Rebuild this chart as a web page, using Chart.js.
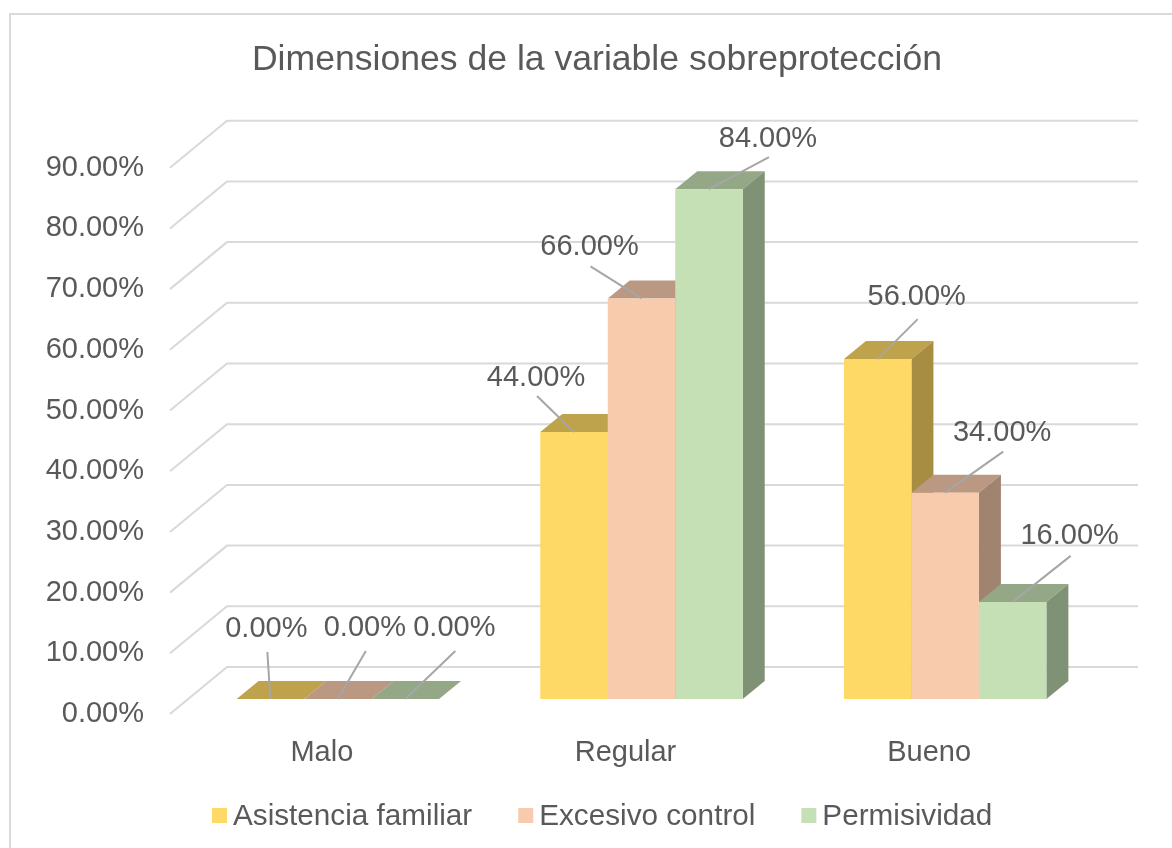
<!DOCTYPE html>
<html><head><meta charset="utf-8">
<style>html,body{margin:0;padding:0;background:#fff}canvas{display:block}</style>
<script src="https://cdn.jsdelivr.net/npm/chart.js@4"></script>
</head><body>
<canvas id="c" width="1172" height="848"></canvas>
<script>
const categories = ["Malo", "Regular", "Bueno"];
const asistencia = [0, 44, 56];
const excesivo = [0, 66, 34];
const permisividad = [0, 84, 16];
const seriesNames = ["Asistencia familiar", "Excesivo control", "Permisividad"];
const frontColors = ["#FFD966", "#F8CBAD", "#C5E0B4"];
const topColors = ["#BFA34C", "#BA9882", "#94A887"];
const sideColors = ["#A68D42", "#A18470", "#809275"];
const yTicks = [0,10,20,30,40,50,60,70,80,90];

const FONT = '"Liberation Sans", Arial, sans-serif';
const TEXT = "#595959";
const wall = {dx:57, dy:-47};       // floor depth
const barShift = {dx:16, dy:-15};   // bars sit mid-floor
const barDepth = {dx:22, dy:-18};
// leader line start relative to the top-front centre of the bar [series][category]
const leaders = [
  [[-3,-47],[-37,-36],[40,-40]],
  [[28,-48],[-51,-32],[58,-41]],
  [[50,-48],[60,-32],[58,-46]]
];
// gap between the leader start and its label [series][category]
const labelGaps = [
  [23,18,22],
  [23,19,19],
  [23,18,20]
];

function poly(ctx, pts, fill){
  ctx.beginPath();
  pts.forEach((p,i)=> i ? ctx.lineTo(p[0],p[1]) : ctx.moveTo(p[0],p[1]));
  ctx.closePath(); ctx.fillStyle = fill; ctx.fill();
}

const decor = {
  id:"decor",
  beforeDraw(chart){
    const ctx = chart.ctx;
    ctx.save();
    ctx.fillStyle="#fff"; ctx.fillRect(0,0,1172,848);
    ctx.strokeStyle="#D9D9D9"; ctx.lineWidth=2;
    ctx.beginPath(); ctx.moveTo(10,848); ctx.lineTo(10,14); ctx.lineTo(1172,14); ctx.stroke();
    ctx.restore();
  },
  beforeDatasetsDraw(chart){
    const {ctx, scales:{x,y}} = chart;
    ctx.save();
    ctx.strokeStyle="#D9D9D9"; ctx.lineWidth=2;
    y.ticks.forEach(t=>{
      const py = y.getPixelForValue(t.value);
      ctx.beginPath();
      ctx.moveTo(x.left, py);
      ctx.lineTo(x.left+wall.dx, py+wall.dy);
      ctx.lineTo(x.right+wall.dx, py+wall.dy);
      ctx.stroke();
    });
    ctx.restore();
    // left-to-right painting: each series covers the side face of the one before it
    chart.data.datasets.forEach((ds,i)=>{
      const meta = chart.getDatasetMeta(i);
      ctx.save();
      ctx.translate(barShift.dx, barShift.dy);
      meta.data.forEach(b=>{
        const p = b.getProps(["x","y","base","width"], true);
        const l = p.x-p.width/2, r = p.x+p.width/2, t = p.y, bt = p.base;
        const d = barDepth;
        poly(ctx, [[l,t],[r,t],[r+d.dx,t+d.dy],[l+d.dx,t+d.dy]], topColors[i]);
        poly(ctx, [[r,t],[r+d.dx,t+d.dy],[r+d.dx,bt+d.dy],[r,bt]], sideColors[i]);
      });
      meta.controller.draw();
      ctx.restore();
    });
  },
  beforeDatasetDraw(){ return false; },
  afterDatasetsDraw(chart){
    const ctx = chart.ctx;
    ctx.save();
    chart.data.datasets.forEach((ds,i)=>{
      chart.getDatasetMeta(i).data.forEach((b,j)=>{
        const ax = b.x+barShift.dx, ay = b.y+barShift.dy;
        const sx = ax+leaders[i][j][0], sy = ay+leaders[i][j][1];
        ctx.strokeStyle="#A6A6A6"; ctx.lineWidth=2;
        ctx.beginPath(); ctx.moveTo(sx,sy); ctx.lineTo(ax,ay); ctx.stroke();
        ctx.fillStyle=TEXT; ctx.font="29px "+FONT;
        ctx.textAlign="center"; ctx.textBaseline="middle";
        ctx.fillText(ds.data[j].toFixed(2)+"%", sx-1, sy-labelGaps[i][j]);
      });
    });
    // legend
    ctx.font="29.7px "+FONT; ctx.textAlign="left"; ctx.textBaseline="middle";
    let lx = 212; const ly = 815;
    chart.data.datasets.forEach((ds,i)=>{
      ctx.fillStyle=frontColors[i]; ctx.fillRect(lx, ly-7, 15, 15);
      ctx.fillStyle=TEXT; ctx.fillText(ds.label, lx+21, ly+2);
      lx += 21+ctx.measureText(ds.label).width+46;
    });
    ctx.restore();
  }
};

new Chart(document.getElementById("c"),{
  type:"bar",
  data:{labels:categories,datasets:[
    {label:seriesNames[0],data:asistencia,backgroundColor:frontColors[0]},
    {label:seriesNames[1],data:excesivo,backgroundColor:frontColors[1]},
    {label:seriesNames[2],data:permisividad,backgroundColor:frontColors[2]}
  ]},
  options:{
    responsive:false,animation:false,
    layout:{padding:{left:40,right:18,top:0,bottom:0}},
    datasets:{bar:{categoryPercentage:2/3,barPercentage:1,borderWidth:0}},
    plugins:{
      legend:{display:false},tooltip:{enabled:false},
      title:{display:true,text:"Dimensiones de la variable sobreprotección",color:TEXT,
        font:{family:FONT,size:35.6,weight:"normal"},padding:{top:39,bottom:86}}
    },
    scales:{
      x:{grid:{display:false},border:{display:false},
        ticks:{color:TEXT,font:{family:FONT,size:29},padding:14,maxRotation:0},
        afterFit(s){s.height=134;}},
      y:{min:0,max:90,afterBuildTicks(s){s.ticks=yTicks.map(v=>({value:v}));},
        grid:{display:false},border:{display:false},
        ticks:{color:TEXT,font:{family:FONT,size:29},padding:18,
          callback:v=>v.toFixed(2)+"%"},
        afterFit(s){s.width=130;}},
      depthGutter:{position:"right",grid:{display:false},border:{display:false},
        ticks:{display:false},afterFit(s){s.width=73;}}
    }
  },
  plugins:[decor]
});
</script>
</body></html>
